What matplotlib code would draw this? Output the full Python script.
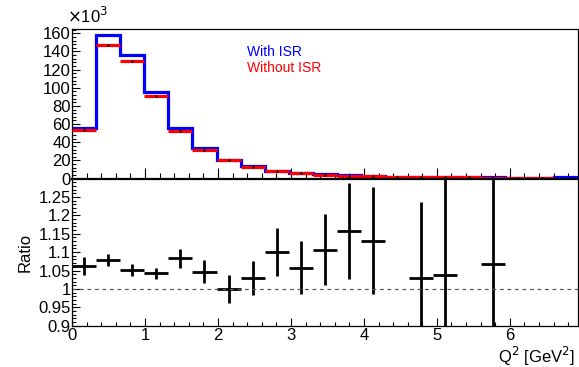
import numpy as np
import matplotlib.pyplot as plt
from matplotlib.ticker import MultipleLocator

plt.rcParams['font.family'] = ['Liberation Sans', 'DejaVu Sans']

# Q^2 binning: 21 bins of 0.33 GeV^2
bin_width = 0.33
edges = np.arange(22) * bin_width
centers = edges[:-1] + bin_width / 2

# event counts in units of 10^3
with_isr = [55.5, 158, 136, 95, 56, 33.5, 20.5, 13.5, 8.5, 6.5, 4.5,
            3.8, 2.8, 2.2, 1.7, 1.5, 1.3, 1.2, 1.1, 1.0, 1.2]
without_isr = [53, 147, 129, 90.5, 52, 32, 20, 12.5, 8, 6, 4,
               3, 2.3, 2.0, 1.6, 1.4, 1.2, 1.1, 1.0, 0.9, 0]

# ratio With/Without ISR, only for bins where it is defined
ratio_bins = [0, 1, 2, 3, 4, 5, 6, 7, 8, 9, 10, 11, 12, 14, 15, 17]
ratio = [1.062, 1.078, 1.051, 1.042, 1.083, 1.047, 1.000, 1.030, 1.100,
         1.058, 1.107, 1.157, 1.131, 1.031, 1.037, 1.068]
ratio_err = [0.025, 0.016, 0.016, 0.016, 0.026, 0.031, 0.037, 0.047, 0.066,
             0.073, 0.096, 0.130, 0.146, 0.206, 0.30, 0.40]

fig = plt.figure(figsize=(5.79, 3.67), dpi=100)
ax1 = fig.add_axes([0.1244, 0.5135, 0.8734, 0.4088])
ax2 = fig.add_axes([0.1244, 0.1125, 0.8734, 0.4010])

fs = 12

# upper panel: spectra
ax1.stairs(with_isr, edges, color='blue', lw=2.3, baseline=None, zorder=2)
red = np.array(without_isr)
keep = red > 0
ax1.errorbar(centers[keep], red[keep], xerr=bin_width / 2, fmt='.', ms=1.5,
             color='k', ecolor='red', elinewidth=2.3, capsize=0, zorder=3)
ax1.axhline(0, color='0.3', lw=1.2, ls=(0, (3, 2)), zorder=1)
ax1.set_xlim(0, 6.93)
ax1.set_ylim(0, 165.3)
ax1.set_xticklabels([])
ax1.xaxis.set_major_locator(MultipleLocator(1))
ax1.xaxis.set_minor_locator(MultipleLocator(0.2))
ax1.yaxis.set_major_locator(MultipleLocator(20))
ax1.yaxis.set_minor_locator(MultipleLocator(4))
ax1.tick_params(which='both', direction='in', top=False, right=False,
                labelsize=fs, pad=1, width=0.8)
ax1.tick_params(axis='x', which='major', length=8)
ax1.tick_params(axis='x', which='minor', length=4)
ax1.tick_params(axis='y', which='major', length=6)
ax1.tick_params(axis='y', which='minor', length=3)
ax1.text(-0.01, 1.015, r'$\times$10$^{3}$', transform=ax1.transAxes,
         fontsize=fs, ha='left', va='bottom')
ax1.text(0.346, 0.818, 'With ISR', color='blue', fontsize=10,
         va='baseline', transform=ax1.transAxes)
ax1.text(0.346, 0.707, 'Without ISR', color='red', fontsize=10,
         va='baseline', transform=ax1.transAxes)

# lower panel: ratio
rx = centers[ratio_bins]
ax2.errorbar(rx, ratio, xerr=bin_width / 2, yerr=ratio_err, fmt='none',
             ecolor='black', elinewidth=2, capsize=0)
ax2.axhline(1, color='0.35', lw=0.9, ls=(0, (3, 3)))
ax2.set_xlim(0, 6.93)
ax2.set_ylim(0.9, 1.3)
ax2.xaxis.set_major_locator(MultipleLocator(1))
ax2.xaxis.set_minor_locator(MultipleLocator(0.2))
ax2.yaxis.set_minor_locator(MultipleLocator(0.01))
ax2.set_yticks(np.arange(0.9, 1.26, 0.05))
ax2.set_yticklabels(['0.9', '0.95', '1', '1.05', '1.1', '1.15', '1.2', '1.25'])
ax2.tick_params(which='both', direction='in', top=False, right=False,
                labelsize=fs, pad=1, width=0.8)
ax2.tick_params(axis='x', which='major', length=6, pad=2)
ax2.tick_params(axis='x', which='minor', length=3)
ax2.tick_params(axis='y', which='major', length=6)
ax2.tick_params(axis='y', which='minor', length=3)
ax2.set_ylabel('Ratio', fontsize=fs, labelpad=4)
ax2.set_xlabel(r'Q$^{2}$ [GeV$^{2}$]', fontsize=fs)
ax2.xaxis.set_label_coords(0.995, -0.13, transform=ax2.transAxes)
ax2.xaxis.label.set_horizontalalignment('right')
ax2.xaxis.label.set_verticalalignment('top')

for ax in (ax1, ax2):
    for s in ax.spines.values():
        s.set_linewidth(0.9)
ax2.spines['top'].set_linewidth(1.6)

fig.savefig('out.png', dpi=100)
